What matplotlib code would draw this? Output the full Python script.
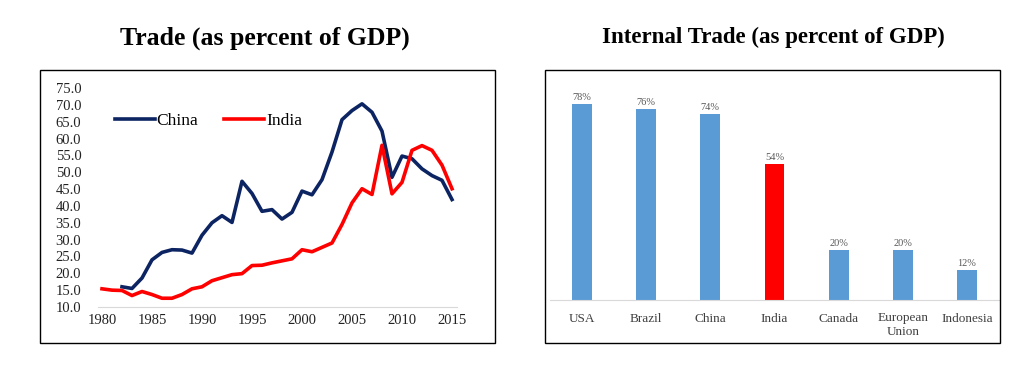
import matplotlib
matplotlib.use("Agg")
import matplotlib.pyplot as plt
from matplotlib.patches import Rectangle

years = list(range(1980, 2016))
china_years = list(range(1982, 2016))
china = [16.0, 15.5, 18.6, 24.0, 26.2, 27.0, 26.9, 26.0, 31.3, 35.0,
         37.1, 35.1, 47.3, 43.7, 38.4, 38.9, 36.1, 38.1, 44.4, 43.3,
         47.8, 56.0, 65.6, 68.3, 70.3, 67.8, 62.2, 48.5, 54.8, 54.0,
         51.0, 49.0, 47.6, 41.9]
india = [15.4, 15.0, 14.9, 13.4, 14.6, 13.7, 12.6, 12.6, 13.7, 15.4,
         16.0, 17.8, 18.7, 19.6, 19.9, 22.3, 22.4, 23.1, 23.7, 24.3,
         27.0, 26.4, 27.7, 29.0, 34.5, 40.9, 45.1, 43.4, 58.0, 43.6,
         47.0, 56.5, 57.9, 56.5, 52.1, 45.1]
yticks = [10 + 5 * i for i in range(14)]
xticks = [1980, 1985, 1990, 1995, 2000, 2005, 2010, 2015]

countries = ["USA", "Brazil", "China", "India", "Canada", "European\nUnion", "Indonesia"]
internal = [78, 76, 74, 54, 20, 20, 12]
bar_labels = ["78%", "76%", "74%", "54%", "20%", "20%", "12%"]

SERIF = ["Liberation Serif", "DejaVu Serif"]
W, H = 1024, 375
fig = plt.figure(figsize=(W / 100, H / 100), dpi=100)

def fx(px):
    return px / W

def fy(py):
    return 1 - py / H

# panel frames
for x0, x1 in [(40, 495), (545, 1000)]:
    fig.patches.append(Rectangle((fx(x0), fy(343)), fx(x1) - fx(x0), fy(70) - fy(343),
                                 transform=fig.transFigure, fill=False,
                                 edgecolor="black", linewidth=1.0))

fig.text(fx(265), fy(38), "Trade (as percent of GDP)", ha="center", va="center",
         fontsize=18.5, fontweight="bold", family=SERIF)
fig.text(fx(773), fy(37), "Internal Trade (as percent of GDP)", ha="center", va="center",
         fontsize=16.5, fontweight="bold", family=SERIF)

# left line chart
ax1 = fig.add_axes([fx(98), fy(307), fx(457) - fx(98), fy(88) - fy(307)])
ax1.plot(china_years, china, color="#0c2462", linewidth=2.6, label="China")
ax1.plot(years, india, color="#ff0000", linewidth=2.6, label="India")
ax1.set_xlim(1979.6, 2015.5)
ax1.set_ylim(10, 75)
ax1.set_yticks(yticks)
ax1.set_yticklabels([f"{v:.1f}" for v in yticks])
ax1.set_xticks(xticks)
for s in ["top", "right", "left"]:
    ax1.spines[s].set_visible(False)
ax1.spines["bottom"].set_color("#d9d9d9")
ax1.tick_params(axis="both", length=0, labelsize=10.5, labelcolor="#222222")
ax1.tick_params(axis="y", pad=12)
ax1.tick_params(axis="x", pad=5)
for lab in ax1.get_xticklabels() + ax1.get_yticklabels():
    lab.set_family(SERIF)
leg = ax1.legend(loc="center left", bbox_to_anchor=(0.047, 0.85), ncol=2, frameon=False,
                 handlelength=2.3, handletextpad=0.1, columnspacing=1.5,
                 borderpad=0, borderaxespad=0,
                 prop={"family": SERIF, "size": 12.5})

# right bar chart
ax2 = fig.add_axes([fx(550), fy(300), fx(999) - fx(550), fy(300 - 2.513 * 88) - fy(300)])
colors = ["#5b9bd5"] * len(countries)
colors[3] = "#ff0000"
xs = list(range(len(countries)))
bars = ax2.bar(xs, internal, width=0.31, color=colors)
ax2.set_xlim(-0.5, 6.5)
ax2.set_ylim(0, 88)
for b, t in zip(bars, bar_labels):
    ax2.annotate(t, (b.get_x() + b.get_width() / 2, b.get_height()), xytext=(0, 1.5),
                 textcoords="offset points", ha="center", va="bottom",
                 fontsize=7.5, color="#595959", family=SERIF)
ax2.set_xticks(xs)
ax2.set_xticklabels(countries, family=SERIF, fontsize=9.5, color="#404040", linespacing=1.15)
ax2.set_yticks([])
for s in ["top", "right", "left"]:
    ax2.spines[s].set_visible(False)
ax2.spines["bottom"].set_color("#d9d9d9")
ax2.tick_params(axis="x", length=0, pad=9)

fig.savefig("out.png", dpi=100)
